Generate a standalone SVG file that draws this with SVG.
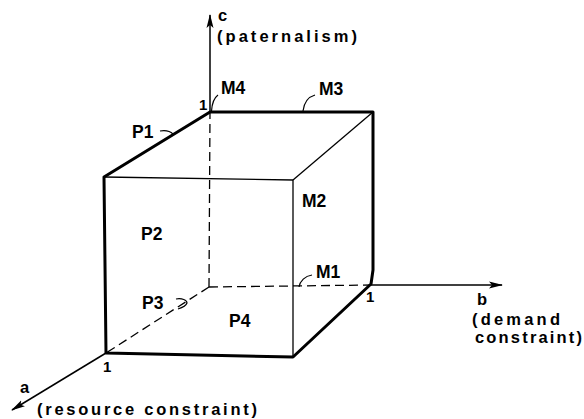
<svg xmlns="http://www.w3.org/2000/svg" width="584" height="419" viewBox="0 0 584 419">
<style>
.thick{stroke:#000;stroke-width:3;fill:none;stroke-linecap:round;stroke-linejoin:round}
.thin{stroke:#000;stroke-width:1.3;fill:none}
.dash{stroke:#000;stroke-width:1.3;fill:none;stroke-dasharray:9,5}
.axis{stroke:#000;stroke-width:1.5;fill:none}
.lead{stroke:#000;stroke-width:1.2;fill:none}
text{font-family:"Liberation Sans",Arial,sans-serif;font-weight:bold;fill:#000}
.lbl{font-size:17.5px}
.ax{font-size:16.5px}
.one{font-size:15px}
</style>
<defs>
<marker id="arr" viewBox="0 0 14 8" refX="13" refY="4" markerWidth="14" markerHeight="8" markerUnits="userSpaceOnUse" orient="auto">
<path d="M0,0.5 L14,4 L0,7.5 L3,4 Z" fill="#000"/>
</marker>
</defs>
<rect width="584" height="419" fill="#fff"/>
<g id="connectors">
<line class="axis" x1="210" y1="112" x2="210" y2="15" marker-end="url(#arr)"/>
<line class="axis" x1="372" y1="285" x2="502" y2="285" marker-end="url(#arr)"/>
<line class="axis" x1="106" y1="353" x2="12" y2="410" marker-end="url(#arr)"/>
<line class="dash" x1="209" y1="287" x2="210" y2="112"/>
<line class="dash" x1="209" y1="287" x2="372" y2="285"/>
<line class="dash" x1="209" y1="287" x2="106" y2="353"/>
<line class="thin" x1="104" y1="177" x2="293" y2="180"/>
<line class="thin" x1="293" y1="180" x2="293" y2="357"/>
<line class="thin" x1="293" y1="180" x2="373" y2="112"/>
<path class="thick" d="M106,353 L104,177 L210,112 L373,112 L373,270 L371,284 L293,357 Z"/>
<path class="lead" d="M211.5,111 C212,103 214,98 218,95"/>
<path class="lead" d="M303,111 C304,103 308,97 315,95"/>
<path class="lead" d="M160,131 C166,130 170,131 173,134"/>
<path class="lead" d="M299,287 C300,281 305,276 312,275"/>
<path class="lead" d="M176,299 C182,298 187,300 187,303 C186,306 181,308 178,309"/>
</g>
<g id="axis-c">
<text class="ax" x="218" y="21">c</text>
<text class="ax" x="217" y="42" textLength="140" lengthAdjust="spacing">(paternalism)</text>
<text class="one" x="199" y="110">1</text>
</g>
<g id="axis-b">
<text class="ax" x="477" y="305">b</text>
<text class="ax" x="472" y="325" textLength="88" lengthAdjust="spacing">(demand</text>
<text class="ax" x="475" y="343" textLength="107" lengthAdjust="spacing">constraint)</text>
<text class="one" x="366" y="302">1</text>
</g>
<g id="axis-a">
<text class="ax" x="20" y="393">a</text>
<text class="ax" x="37" y="415" textLength="220" lengthAdjust="spacing">(resource constraint)</text>
<text class="one" x="103" y="372">1</text>
</g>
<g id="M4"><text class="lbl" x="221" y="94">M4</text></g>
<g id="M3"><text class="lbl" x="319" y="95">M3</text></g>
<g id="M2"><text class="lbl" x="302" y="207">M2</text></g>
<g id="M1"><text class="lbl" x="316" y="278">M1</text></g>
<g id="P1"><text class="lbl" x="132" y="138">P1</text></g>
<g id="P2"><text class="lbl" x="141" y="240">P2</text></g>
<g id="P3"><text class="lbl" x="142" y="309">P3</text></g>
<g id="P4"><text class="lbl" x="229" y="327">P4</text></g>
</svg>
